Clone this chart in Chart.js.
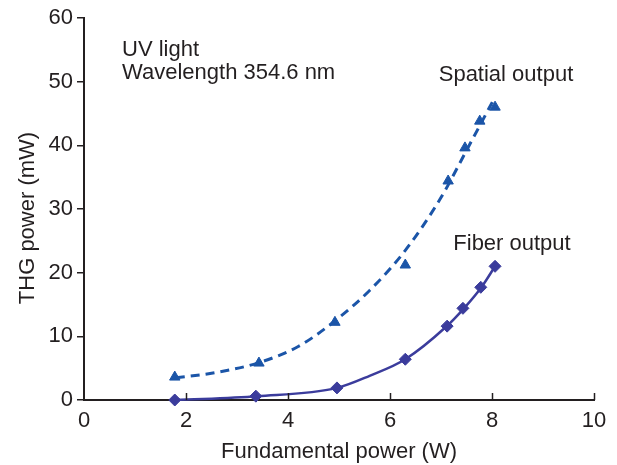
<!DOCTYPE html>
<html>
<head>
<meta charset="utf-8">
<script src="https://cdn.jsdelivr.net/npm/chart.js@4.4.1/dist/chart.umd.min.js"></script>
<style>
  html, body { margin: 0; padding: 0; background: #fff; }
  #wrap { width: 617px; height: 465px; }
</style>
</head>
<body>
<div id="wrap"><canvas id="thgChart" width="617" height="465"></canvas></div>
<script>
// measured points
const spatialX = [1.78, 3.43, 4.92, 6.3, 7.14, 7.47, 7.76, 8.06];
const spatialY = [3.6, 5.8, 12.2, 21.2, 34.4, 39.6, 43.8, 46.0];
const fiberX = [1.78, 3.37, 4.96, 6.3, 7.12, 7.43, 7.78, 8.06];
const fiberY = [0.0, 0.6, 1.9, 6.4, 11.6, 14.4, 17.7, 21.0];

// trend curves
const spatialFitX = [1.8, 2.5, 3.4, 4.2, 4.9, 5.6, 6.3, 7.0, 7.5, 8.02];
const spatialFitY = [3.5, 4.2, 5.8, 8.4, 12.3, 17.2, 23.5, 31.8, 39.2, 47.0];
const fiberFitX = [1.8, 3.4, 4.96, 5.6, 6.3, 7.1, 7.45, 7.8, 8.06];
const fiberFitY = [0.0, 0.6, 1.9, 3.8, 6.4, 11.5, 14.4, 17.8, 21.0];

const xTicks = [0, 2, 4, 6, 8, 10];
const yTicks = [0, 10, 20, 30, 40, 50, 60];

const spatialColor = '#1b55a8';
const fiberColor = '#3b3c9c';
const textColor = '#231f20';
const fontFamily = '"Liberation Sans", Arial, sans-serif';
const fontSize = 22;

function toPoints(xs, ys) {
  return xs.map((x, i) => ({ x: x, y: ys[i] }));
}

// inward x ticks, y title + text labels
const extrasPlugin = {
  id: 'extras',
  afterDraw(chart) {
    const ctx = chart.ctx;
    const xs = chart.scales.x;
    const ys = chart.scales.y;
    ctx.save();
    ctx.strokeStyle = textColor;
    ctx.lineWidth = 1.5;
    xTicks.forEach(v => {
      if (v === 0) return;
      const px = Math.round(xs.getPixelForValue(v)) + 0.5;
      ctx.beginPath();
      ctx.moveTo(px, ys.bottom);
      ctx.lineTo(px, ys.bottom - 7);
      ctx.stroke();
    });
    ctx.fillStyle = textColor;
    ctx.font = fontSize + 'px ' + fontFamily;

    // y axis title, a bit below the axis middle like the original
    ctx.save();
    ctx.translate(28, 218);
    ctx.rotate(-Math.PI / 2);
    ctx.textAlign = 'center';
    ctx.textBaseline = 'middle';
    ctx.fillText('THG power (mW)', 0, 0);
    ctx.restore();

    ctx.textBaseline = 'alphabetic';
    ctx.textAlign = 'left';
    ctx.fillText('UV light', 122, 56);
    ctx.fillText('Wavelength 354.6 nm', 122, 79);
    ctx.textAlign = 'center';
    ctx.fillText('Spatial output', 506, 81);
    ctx.fillText('Fiber output', 512, 250);
    ctx.restore();
  }
};

new Chart(document.getElementById('thgChart'), {
  type: 'scatter',
  data: {
    datasets: [
      {
        label: 'Spatial fit',
        data: toPoints(spatialFitX, spatialFitY),
        showLine: true,
        borderColor: spatialColor,
        borderWidth: 3,
        borderDash: [9, 6],
        pointRadius: 0,
        cubicInterpolationMode: 'monotone',
        clip: false
      },
      {
        label: 'Fiber fit',
        data: toPoints(fiberFitX, fiberFitY),
        showLine: true,
        borderColor: fiberColor,
        borderWidth: 2.5,
        pointRadius: 0,
        cubicInterpolationMode: 'monotone',
        clip: false
      },
      {
        label: 'Spatial output',
        data: toPoints(spatialX, spatialY),
        showLine: false,
        pointStyle: 'triangle',
        pointRadius: 6,
        backgroundColor: spatialColor,
        borderColor: spatialColor,
        borderWidth: 1,
        clip: false
      },
      {
        label: 'Fiber output',
        data: toPoints(fiberX, fiberY),
        showLine: false,
        pointStyle: 'rectRot',
        pointRadius: 6,
        backgroundColor: fiberColor,
        borderColor: fiberColor,
        borderWidth: 1,
        clip: false
      }
    ]
  },
  options: {
    responsive: false,
    animation: false,
    layout: { padding: { top: 18, right: 23, left: 0, bottom: 0 } },
    plugins: {
      legend: { display: false },
      tooltip: { enabled: false }
    },
    scales: {
      x: {
        type: 'linear',
        min: 0,
        max: 10,
        afterBuildTicks: s => { s.ticks = xTicks.map(v => ({ value: v })); },
        afterFit: s => { s.height = 65; },
        grid: { display: false, drawTicks: false },
        border: { display: true, color: textColor, width: 2 },
        ticks: { color: textColor, font: { family: fontFamily, size: fontSize }, padding: 8, maxRotation: 0 },
        title: {
          display: true,
          text: 'Fundamental power (W)',
          color: textColor,
          font: { family: fontFamily, size: fontSize },
          padding: { top: 0, bottom: 0 }
        }
      },
      y: {
        type: 'linear',
        min: 0,
        max: 60,
        afterBuildTicks: s => { s.ticks = yTicks.map(v => ({ value: v })); },
        afterFit: s => { s.width = 84; },
        grid: { drawOnChartArea: false, drawTicks: true, tickLength: 7, color: textColor, lineWidth: 1.5 },
        border: { display: true, color: textColor, width: 2 },
        ticks: { color: textColor, font: { family: fontFamily, size: fontSize }, padding: 4 },
        title: { display: false }
      }
    }
  },
  plugins: [extrasPlugin]
});
</script>
</body>
</html>
